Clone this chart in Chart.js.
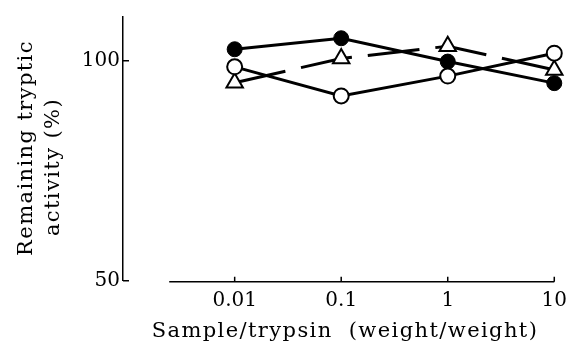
<!DOCTYPE html>
<html>
<head>
<meta charset="utf-8">
<script src="https://cdn.jsdelivr.net/npm/chart.js@4"></script>
<style>
  body { margin: 0; background: #fff; }
  canvas { display: block; }
</style>
</head>
<body>
<canvas id="chart" width="575" height="349"></canvas>
<script>
// sample/trypsin ratios (log axis)
var ratios = [0.01, 0.1, 1, 10];
var xTicks = [0.01, 0.1, 1, 10];
var yTicks = [50, 100];

// remaining tryptic activity (%)
var filledCircle = [102.6, 105.1, 99.8, 94.9];
var openCircle = [98.6, 92.0, 96.5, 101.7];
var openTriangle = [95.0, 100.5, 103.3, 97.9];

var xAxisStart = 0.00243;

function pts(vals) {
    return ratios.map(function(r, i) { return { x: r, y: vals[i] }; });
}

var FONT = 'DejaVu Serif';

// hand-drawn style axes: inward ticks, x axis line detached from y axis
var axesPlugin = {
    id: 'axes',
    afterDraw: function(chart) {
        var ctx = chart.ctx;
        var xs = chart.scales.x, ys = chart.scales.y;
        var area = chart.chartArea;
        ctx.save();
        ctx.strokeStyle = '#000';
        ctx.lineWidth = 1.5;
        ctx.beginPath();
        ctx.moveTo(xs.getPixelForValue(xAxisStart), area.bottom + 1);
        ctx.lineTo(area.right, area.bottom + 1);
        ys.ticks.forEach(function(t) {
            var py = ys.getPixelForValue(t.value);
            ctx.moveTo(area.left, py);
            ctx.lineTo(area.left + 6, py);
        });
        xs.ticks.forEach(function(t) {
            var px = xs.getPixelForValue(t.value);
            ctx.moveTo(px, area.bottom + 1);
            ctx.lineTo(px, area.bottom - 4);
        });
        ctx.stroke();

        // axis titles
        ctx.fillStyle = '#000';
        ctx.font = '21px "' + FONT + '"';
        ctx.letterSpacing = '1.4px';
        ctx.textAlign = 'center';
        ctx.textBaseline = 'alphabetic';
        ctx.fillText('Sample/trypsin  (weight/weight)', 345, 337);

        ctx.save();
        ctx.translate(32, 148);
        ctx.rotate(-Math.PI / 2);
        ctx.fillText('Remaining tryptic', 0, 0);
        ctx.restore();
        ctx.save();
        ctx.translate(59, 167);
        ctx.rotate(-Math.PI / 2);
        ctx.fillText('activity (%)', 0, 0);
        ctx.restore();
        ctx.restore();
    }
};

var ctx = document.getElementById('chart').getContext('2d');
new Chart(ctx, {
    type: 'line',
    data: {
        datasets: [
            {
                label: 'open circle',
                data: pts(openCircle),
                borderColor: '#000',
                borderWidth: 3,
                pointStyle: 'circle',
                pointRadius: 7.5,
                pointBackgroundColor: '#fff',
                pointBorderColor: '#000',
                pointBorderWidth: 2
            },
            {
                label: 'open triangle',
                data: pts(openTriangle),
                borderColor: '#000',
                borderWidth: 3,
                borderDash: [52, 16],
                pointStyle: 'triangle',
                pointRadius: 9.5,
                pointBackgroundColor: '#fff',
                pointBorderColor: '#000',
                pointBorderWidth: 2
            },
            {
                label: 'filled circle',
                data: pts(filledCircle),
                borderColor: '#000',
                borderWidth: 3,
                pointStyle: 'circle',
                pointRadius: 7.5,
                pointBackgroundColor: '#000',
                pointBorderColor: '#000',
                pointBorderWidth: 1
            }
        ]
    },
    options: {
        responsive: false,
        animation: false,
        clip: false,
        layout: { padding: { left: 0, right: 16.5, top: 16.7, bottom: 0 } },
        plugins: {
            legend: { display: false },
            tooltip: { enabled: false }
        },
        scales: {
            x: {
                type: 'logarithmic',
                min: 0.000895,
                max: 10,
                afterBuildTicks: function(scale) {
                    scale.ticks = xTicks.map(function(v) { return { value: v }; });
                },
                afterFit: function(scale) { scale.height = 68.3; },
                grid: { display: false, drawTicks: false },
                border: { display: false },
                ticks: {
                    color: '#000',
                    font: { family: FONT, size: 20 },
                    padding: 8,
                    maxRotation: 0,
                    autoSkip: false,
                    callback: function(v) { return String(v); }
                }
            },
            y: {
                type: 'linear',
                min: 50,
                max: 110,
                afterBuildTicks: function(scale) {
                    scale.ticks = yTicks.map(function(v) { return { value: v }; });
                },
                afterFit: function(scale) { scale.width = 123; },
                grid: { display: false, drawTicks: false },
                border: { display: true, color: '#000', width: 1.5 },
                ticks: {
                    color: '#000',
                    font: { family: FONT, size: 20 },
                    padding: 3
                }
            }
        }
    },
    plugins: [axesPlugin]
});
</script>
</body>
</html>
